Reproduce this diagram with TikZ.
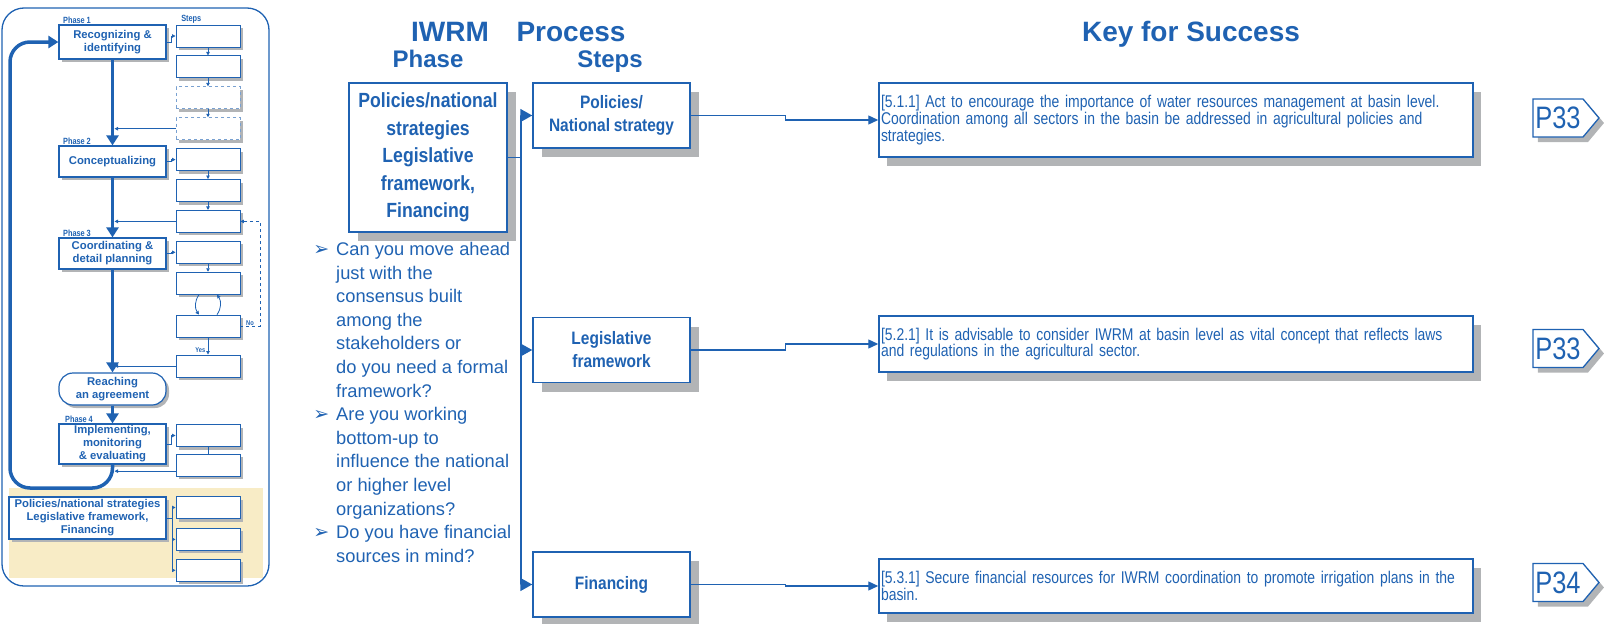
\documentclass[tikz,border=0pt]{standalone}
\usepackage{fontspec}
\setmainfont{Liberation Sans}
\newfontfamily\narrowfont[FakeStretch=0.82, WordSpace=0.82]{Liberation Sans}
\newfontfamily\semifont[FakeStretch=0.86, WordSpace=0.86]{Liberation Sans}
\newfontfamily\symbolfont{DejaVu Sans}
\usetikzlibrary{positioning, shapes.symbols, shadows, arrows.meta}

\definecolor{iwrmblue}{RGB}{31,98,178}
\definecolor{shadowgray}{RGB}{178,180,182}
\definecolor{panelbeige}{RGB}{248,236,198}
\newcommand{\qmark}{\llap{{\symbolfont\fontsize{19}{19}\selectfont ➢}\hspace{7pt}}}

\begin{document}
\begin{tikzpicture}[x=1pt, y=-1pt, node distance=8pt,
                    every node/.style={text=iwrmblue},
                    phasebox/.style={rectangle, draw=iwrmblue, line width=1.2pt, fill=white, minimum width=107pt, inner sep=1pt, align=center, font=\bfseries\fontsize{11.3}{13}\selectfont, drop shadow={shadow xshift=3pt, shadow yshift=-3pt, fill=shadowgray, opacity=1}},
                    smallstep/.style={rectangle, draw=iwrmblue, line width=0.9pt, fill=white, minimum width=64pt, minimum height=22pt, inner sep=0pt, drop shadow={shadow xshift=3pt, shadow yshift=-3pt, fill=shadowgray, opacity=1}},
                    phaselabel/.style={font=\narrowfont\bfseries\fontsize{9}{9}\selectfont, inner sep=0.5pt},
                    steplabel/.style={font=\narrowfont\bfseries\fontsize{7}{7}\selectfont, inner sep=0.5pt},
                    bigbox/.style={rectangle, draw=iwrmblue, line width=1.5pt, fill=white, align=center, inner sep=2pt, drop shadow={shadow xshift=9pt, shadow yshift=-9pt, fill=shadowgray, opacity=1}},
                    processbox/.style={bigbox, minimum width=157pt, minimum height=65pt, font=\semifont\bfseries\fontsize{18}{23}\selectfont},
                    keybox/.style={rectangle, draw=iwrmblue, line width=1.5pt, fill=white, text width=590pt, align=left, inner sep=2pt, font=\narrowfont\fontsize{17}{16.7}\selectfont, drop shadow={shadow xshift=8pt, shadow yshift=-9pt, fill=shadowgray, opacity=1}},
                    pagetag/.style={signal, signal to=east, signal pointer angle=100, draw=iwrmblue, line width=1.3pt, fill=white, minimum width=66pt, minimum height=38pt, inner sep=0pt, font=\narrowfont\fontsize{31}{31}\selectfont, drop shadow={shadow xshift=5pt, shadow yshift=-5pt, fill=shadowgray, opacity=1}},
                    headtext/.style={font=\bfseries\fontsize{28}{30}\selectfont, anchor=base, inner sep=0pt},
                    subheadtext/.style={font=\bfseries\fontsize{24}{26}\selectfont, anchor=base, inner sep=0pt},
                    mainflow/.style={draw=iwrmblue, line width=3.5pt, -{Triangle[length=10pt, width=12pt]}},
                    stepflow/.style={draw=iwrmblue, line width=0.8pt, -{Triangle[length=3.5pt, width=3.5pt]}},
                    phaseflow/.style={draw=iwrmblue, line width=1.6pt, -{Triangle[length=12pt, width=13pt]}},
                    keyflow/.style={draw=iwrmblue, line width=1.3pt, -{Triangle[length=10pt, width=9pt]}}]

    \useasboundingbox (0,0) rectangle (1610,624);

    % Left panel
    \fill[panelbeige] (9,488) rectangle (263,578);
    \draw[iwrmblue, line width=1.3pt, rounded corners=22pt] (2,8) rectangle (269,586);

    \node[phasebox, minimum height=34pt] (recog) at (112.5,42) {Recognizing \&\\identifying};
    \node[phasebox, minimum height=31pt] (concept) at (112.5,161.5) {Conceptualizing};
    \node[phasebox, minimum height=31pt] (coord) at (112.5,253.5) {Coordinating \&\\detail planning};
    \node[phasebox, rounded corners=14pt, minimum height=32pt] (agree) at (112.5,389) {Reaching\\an agreement};
    \node[phasebox, minimum height=40pt, inner sep=0pt] (implement) at (112.5,444) {Implementing,\\monitoring\\\& evaluating};
    \node[phasebox, minimum width=157pt, minimum height=42pt] (policyphase) at (87.5,518) {Policies/national strategies\\Legislative framework,\\Financing};

    \node[phaselabel, above right=0pt and 4pt of recog.north west] (phaseone) {Phase 1};
    \node[phaselabel, above right=0pt and 4pt of concept.north west] (phasetwo) {Phase 2};
    \node[phaselabel, above right=0pt and 4pt of coord.north west] (phasethree) {Phase 3};
    \node[phaselabel, above right=0pt and 6pt of implement.north west] (phasefour) {Phase 4};

    \node[smallstep] (s1) at (208,36) {};
    \node[smallstep, below=of s1] (s2) {};
    \node[smallstep, dashed, draw=iwrmblue!60, below=of s2] (s3) {};
    \node[smallstep, dashed, draw=iwrmblue!60, below=of s3] (s4) {};
    \node[smallstep, below=of s4] (s5) {};
    \node[smallstep, below=of s5] (s6) {};
    \node[smallstep, below=of s6] (s7) {};
    \node[smallstep, below=of s7] (s8) {};
    \node[smallstep, below=of s8] (s9) {};
    \node[smallstep, below=20pt of s9] (s10) {};
    \node[smallstep, below=17pt of s10] (s11) {};
    \node[smallstep] (s12) at (208,435.5) {};
    \node[smallstep, below=7pt of s12] (s13) {};
    \node[smallstep] (s14) at (208,507.5) {};
    \node[smallstep, below=9pt of s14] (s15) {};
    \node[smallstep, below=of s15] (s16) {};

    \node[phaselabel, above right=0pt and 5pt of s1.north west] (stepslabel) {Steps};
    \node[steplabel, above right=0pt and 5pt of s10.east] (nolabel) {No};
    \node[steplabel, above left=1pt and 2pt of s11.north] (yeslabel) {Yes};

    % Left panel paths
    \draw[mainflow] (recog) -- (concept);
    \draw[mainflow] (concept) -- (coord);
    \draw[mainflow] (coord) -- (agree);
    \draw[mainflow] (agree) -- (implement);
    \coordinate (loopcorner) at (10,488);
    \draw[mainflow, rounded corners=20pt] (implement.south) |- (loopcorner) |- (recog.west);

    \draw[stepflow] (recog.east) -- ++(5,0) |- (s1.west);
    \draw[stepflow] (concept.east) -- ++(5,0) |- (s5.west);
    \draw[stepflow] (coord.east) -- ++(5,0) |- (s8.west);
    \draw[stepflow] (implement.east) -- ++(5,0) |- (s12.west);
    \draw[stepflow] (s1) -- (s2);
    \draw[stepflow] (s2) -- (s3);
    \draw[stepflow] (s3) -- (s4);
    \draw[stepflow] (s5) -- (s6);
    \draw[stepflow] (s6) -- (s7);
    \draw[stepflow] (s8) -- (s9);
    \draw[stepflow] (s10) -- (s11);
    \draw[iwrmblue, line width=0.8pt] (s12) -- (s13);
    \draw[stepflow, shorten >=2pt] (s4.west) -- (s4.west -| recog.south);
    \draw[stepflow, shorten >=2pt] (s7.west) -- (s7.west -| recog.south);
    \draw[stepflow, shorten >=2pt] (s11.west) -- (s11.west -| recog.south);
    \draw[stepflow, shorten >=2pt] (s13.190) -- (s13.190 -| recog.south);
    \draw[stepflow] ([xshift=-9pt]s9.south) to[bend right=35] ([xshift=-9pt]s10.north);
    \draw[stepflow] ([xshift=9pt]s10.north) to[bend right=35] ([xshift=9pt]s9.south);
    \draw[stepflow, dashed] (s10.east) -- ++(20,0) |- (s7.east);
    \draw[stepflow] (policyphase.east) -- ++(6,0) |- (s14.west);
    \draw[stepflow] (policyphase.east) -- ++(6,0) |- (s15.west);
    \draw[stepflow] (policyphase.east) -- ++(6,0) |- (s16.west);

    % Headings
    \node[headtext] (iwrmhead) at (450,41) {IWRM};
    \node[subheadtext] (phasehead) at (428,67) {Phase};
    \node[headtext] (processhead) at (571,41) {Process};
    \node[subheadtext] (stepshead) at (610,67) {Steps};
    \node[headtext] (keyhead) at (1191,41) {Key for Success};

    % Phase, process steps and keys
    \node[bigbox, minimum width=158pt, minimum height=149pt, font=\semifont\bfseries\fontsize{20.5}{27.5}\selectfont] (iwrmphase) at (428,157.5) {Policies/national\\strategies\\Legislative\\framework,\\Financing};
    \node[processbox] (policystep) at (611.5,115.5) {Policies/\\National strategy};
    \node[processbox, below=168pt of policystep] (legalstep) {Legislative\\framework};
    \node[processbox, below=168pt of legalstep] (financestep) {Financing};

    \node[anchor=north west, inner sep=0pt, align=left, font=\fontsize{18.3}{23.6}\selectfont] (questions) at (336,242) {\qmark Can you move ahead\\just with the\\consensus built\\among the\\stakeholders or\\do you need a formal\\framework?\\\qmark Are you working\\bottom-up to\\influence the national\\or higher level\\organizations?\\\qmark Do you have financial\\sources in mind?};

    \node[keybox, minimum height=74pt] (keypolicy) at (1176,120) {[5.1.1] Act to encourage the importance of water resources management at basin level.\\Coordination among all sectors in the basin be addressed in agricultural policies and\\strategies.};
    \node[keybox, minimum height=56pt] (keylegal) at (1176,344) {[5.2.1] It is advisable to consider IWRM at basin level as vital concept that reflects laws\\and regulations in the agricultural sector.};
    \node[keybox, minimum height=54pt] (keyfinance) at (1176,586) {[5.3.1] Secure financial resources for IWRM coordination to promote irrigation plans in the\\basin.};

    \node[pagetag] (tagpolicy) at (1558,118) {P33};
    \node[pagetag] (taglegal) at (1558,348.5) {P33};
    \node[pagetag] (tagfinance) at (1558,582.5) {P34};

    % Paths
    \draw[phaseflow] (iwrmphase.east) -- ++(13,0) |- (policystep.west);
    \draw[phaseflow] (iwrmphase.east) -- ++(13,0) |- (legalstep.west);
    \draw[phaseflow] (iwrmphase.east) -- ++(13,0) |- (financestep.west);
    \draw[keyflow] (policystep.east) -- ++(95,0) |- (keypolicy.west);
    \draw[keyflow] (legalstep.east) -- ++(95,0) |- (keylegal.west);
    \draw[keyflow] (financestep.east) -- ++(95,0) |- (keyfinance.west);

\end{tikzpicture}
\end{document}
